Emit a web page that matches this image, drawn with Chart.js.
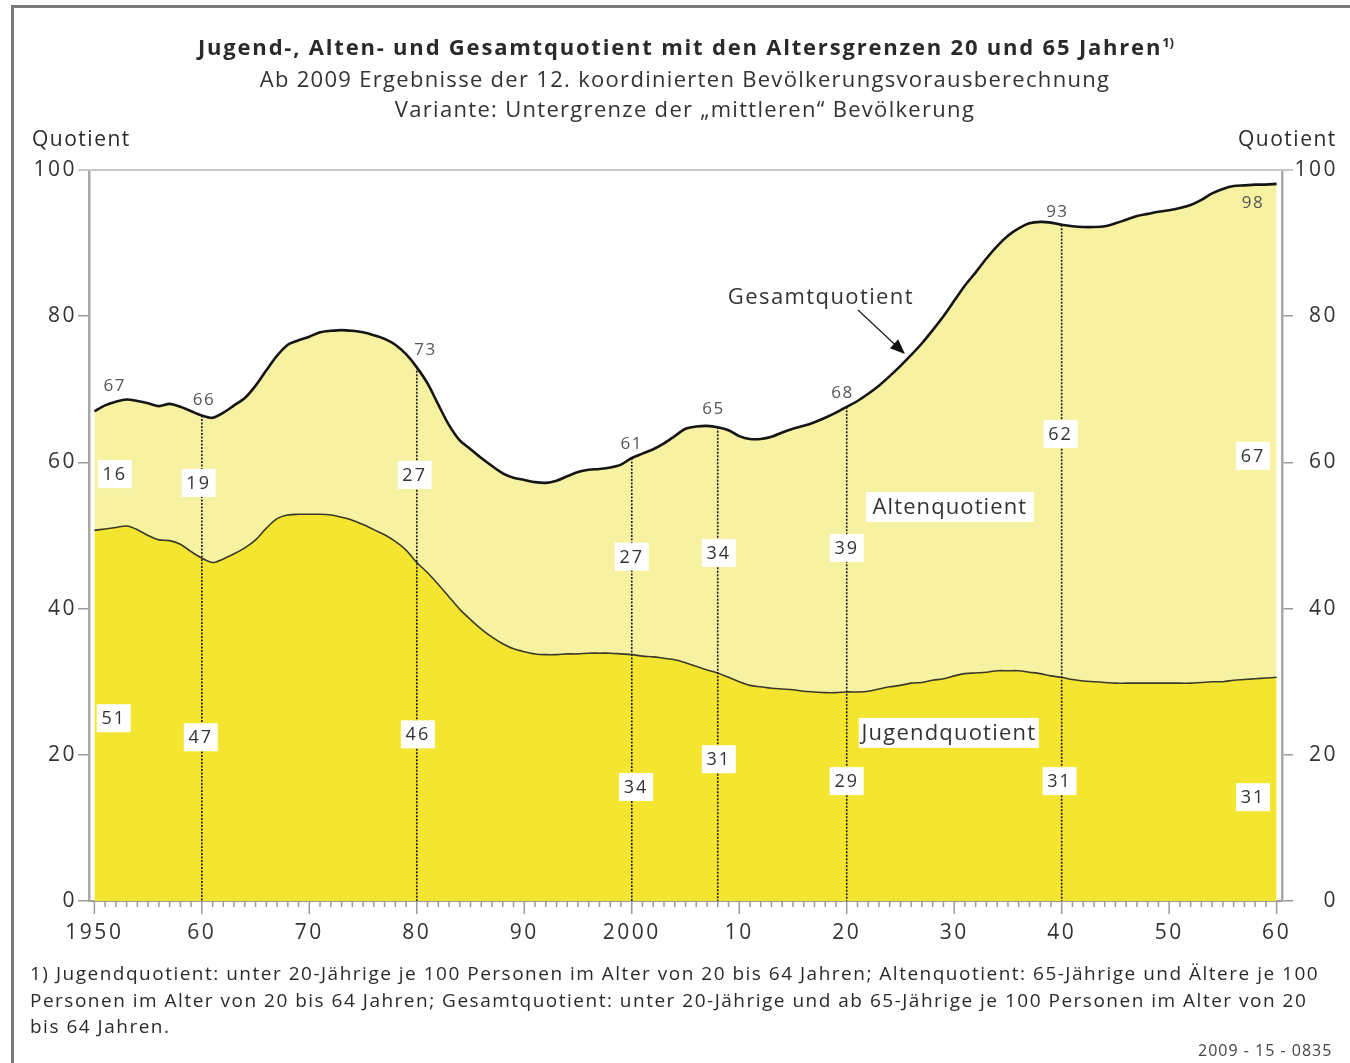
<!DOCTYPE html>
<html><head><meta charset="utf-8">
<script src="https://cdn.jsdelivr.net/npm/chart.js@4.4.1/dist/chart.umd.min.js"></script>
<style>
html,body{margin:0;padding:0;background:#fff;width:1350px;height:1063px;overflow:hidden;font-family:"Open Sans",sans-serif;color:#2a2a2a}
#frame{position:absolute;left:11px;top:5px;width:1400px;height:1100px;border-left:3px solid #7a7a7a;border-top:3px solid #7a7a7a}
#c{position:absolute;left:0;top:0}
.t{position:absolute;white-space:nowrap}
#title{left:0;width:1372px;top:31px;text-align:center;font-weight:bold;font-size:22px;letter-spacing:1.8px}
#title sup{font-size:13px;vertical-align:8px;letter-spacing:0}
.sub{left:0;width:1370px;text-align:center;font-size:22px;letter-spacing:1.3px;color:#333}
.q{font-size:21px;letter-spacing:1.5px;top:124px}
.fn{left:30px;font-size:19px;letter-spacing:1.5px;color:#2a2a2a}
</style></head>
<body>
<div id="frame"></div>
<canvas id="c" width="1350" height="1063"></canvas>
<div class="t" id="title">Jugend-, Alten- und Gesamtquotient mit den Altersgrenzen 20 und 65 Jahren<sup>1)</sup></div>
<div class="t sub" style="top:63px">Ab 2009 Ergebnisse der 12. koordinierten Bevölkerungsvorausberechnung</div>
<div class="t sub" style="top:93px">Variante: Untergrenze der „mittleren“ Bevölkerung</div>
<div class="t q" style="left:32px">Quotient</div>
<div class="t q" style="left:1238px">Quotient</div>
<div class="t fn" style="top:960px">1) Jugendquotient: unter 20-Jährige je 100 Personen im Alter von 20 bis 64 Jahren; Altenquotient: 65-Jährige und Ältere je 100</div>
<div class="t fn" style="top:987px">Personen im Alter von 20 bis 64 Jahren; Gesamtquotient: unter 20-Jährige und ab 65-Jährige je 100 Personen im Alter von 20</div>
<div class="t fn" style="top:1013px">bis 64 Jahren.</div>
<div class="t" style="left:1198px;top:1039px;font-size:16px;letter-spacing:1px;color:#444">2009 - 15 - 0835</div>
<script>
// ---- data ----
const years = [1950,1951,1952,1953,1954,1955,1956,1957,1958,1959,1960,1961,1962,1963,1964,1965,1966,1967,1968,1969,
1970,1971,1972,1973,1974,1975,1976,1977,1978,1979,1980,1981,1982,1983,1984,1985,1986,1987,1988,1989,
1990,1991,1992,1993,1994,1995,1996,1997,1998,1999,2000,2001,2002,2003,2004,2005,2006,2007,2008,2009,
2010,2011,2012,2013,2014,2015,2016,2017,2018,2019,2020,2021,2022,2023,2024,2025,2026,2027,2028,2029,
2030,2031,2032,2033,2034,2035,2036,2037,2038,2039,2040,2041,2042,2043,2044,2045,2046,2047,2048,2049,
2050,2051,2052,2053,2054,2055,2056,2057,2058,2059,2060];
const gesamt = [67.0,67.8,68.3,68.6,68.4,68.1,67.7,68.0,67.6,67.0,66.4,66.1,66.8,67.8,68.8,70.5,72.6,74.6,76.1,76.7,
77.2,77.8,78.0,78.1,78.0,77.8,77.4,76.9,76.1,74.8,73.0,70.8,67.9,65.1,63.0,61.8,60.6,59.5,58.5,57.9,
57.6,57.3,57.2,57.5,58.1,58.7,59.0,59.1,59.3,59.7,60.6,61.2,61.8,62.6,63.6,64.6,64.9,65.0,64.8,64.4,
63.6,63.2,63.2,63.5,64.1,64.6,65.0,65.5,66.1,66.8,67.6,68.4,69.4,70.5,71.8,73.2,74.7,76.3,78.1,80.0,
82.1,84.2,86.0,87.9,89.6,91.0,92.0,92.7,92.9,92.8,92.5,92.3,92.2,92.2,92.3,92.7,93.2,93.7,94.0,94.3,
94.5,94.8,95.2,95.9,96.8,97.4,97.8,97.9,98.0,98.0,98.1];
const jugend = [50.7,50.9,51.1,51.3,50.8,50.0,49.4,49.3,48.8,47.8,46.9,46.3,46.8,47.5,48.3,49.4,51.0,52.3,52.8,52.9,
52.9,52.9,52.8,52.5,52.1,51.5,50.8,50.1,49.2,48.0,46.3,44.9,43.3,41.6,39.9,38.5,37.2,36.1,35.2,34.5,
34.1,33.8,33.7,33.7,33.8,33.8,33.9,33.9,33.9,33.8,33.7,33.5,33.4,33.2,33.0,32.6,32.1,31.6,31.2,30.6,
30.0,29.5,29.3,29.1,29.0,28.9,28.7,28.6,28.5,28.5,28.6,28.6,28.7,29.0,29.3,29.5,29.8,29.9,30.2,30.4,
30.8,31.1,31.2,31.3,31.5,31.5,31.5,31.3,31.1,30.8,30.6,30.3,30.1,30.0,29.9,29.8,29.8,29.8,29.8,29.8,
29.8,29.8,29.8,29.9,30.0,30.0,30.2,30.3,30.4,30.5,30.6];
const markYears    = [1950,1960,1980,2000,2008,2020,2040,2060];
const gesamtLabels = [67,66,73,61,65,68,93,98];
const altenLabels  = [16,19,27,27,34,39,62,67];
const jugendLabels = [51,47,46,34,31,29,31,31];
const lineYears    = [1960,1980,2000,2008,2020,2040];
const yTicks = [0,20,40,60,80,100];
const xTicks = [1950,1960,1970,1980,1990,2000,2010,2020,2030,2040,2050,2060];
const xTickLabels = ['1950','60','70','80','90','2000','10','20','30','40','50','60'];

// ---- annotation layout (data units) ----
const gLabPos = [[1951.9,70.4],[1960.2,68.5],[1980.8,75.4],[2000,62.5],[2007.6,67.3],[2019.6,69.5],[2039.6,94.3],[2057.8,95.4]];
const aLabPos = [[1951.9,58.4],[1959.7,57.2],[1979.8,58.3],[2000,47.1],[2008.1,47.6],[2020,48.3],[2039.9,63.9],[2057.8,60.9]];
const jLabPos = [[1951.8,25.0],[1959.9,22.4],[1980.1,22.8],[2000.4,15.6],[2008.1,19.4],[2020,16.4],[2039.8,16.4],[2057.8,14.2]];

const FONT = '"Open Sans", sans-serif';
const CA = {left:89, right:1282, top:170, bottom:901};

const annot = {
  id:'annot',
  beforeDraw(chart){ chart.ctx.letterSpacing = '2.5px'; },
  afterDatasetsDraw(chart){
    const ctx = chart.ctx, xs = chart.scales.x, ys = chart.scales.y;
    const px = v=>xs.getPixelForValue(v), py = v=>ys.getPixelForValue(v);
    ctx.save();
    // vertical dotted lines
    ctx.strokeStyle = '#1a1a1a'; ctx.lineWidth = 1.6; ctx.setLineDash([2,1.5]);
    lineYears.forEach(yr=>{
      const i = years.indexOf(yr);
      ctx.beginPath(); ctx.moveTo(px(yr), py(gesamt[i])); ctx.lineTo(px(yr), py(0)); ctx.stroke();
    });
    ctx.setLineDash([]);
    ctx.textAlign='center'; ctx.textBaseline='middle';
    // gesamt labels
    ctx.letterSpacing='1.5px';
    ctx.font = '17px '+FONT; ctx.fillStyle = '#555';
    gesamtLabels.forEach((v,k)=>{ ctx.fillText(String(v), px(gLabPos[k][0]), py(gLabPos[k][1])); });
    // boxed labels
    const box = (txt,x,y,w,h,font,ls)=>{
      ctx.font = font; ctx.fillStyle='#fff'; ctx.letterSpacing=ls;
      ctx.fillRect(x-w/2,y-h/2,w,h);
      ctx.fillStyle='#333'; ctx.fillText(txt,x,y+1);
    };
    altenLabels.forEach((v,k)=>box(String(v),px(aLabPos[k][0]),py(aLabPos[k][1]),34,28,'18px '+FONT,'2px'));
    jugendLabels.forEach((v,k)=>box(String(v),px(jLabPos[k][0]),py(jLabPos[k][1]),34,28,'18px '+FONT,'2px'));
    box('Altenquotient', px(2029.6), py(53.9), 168, 30, '22px '+FONT, '1.1px');
    box('Jugendquotient', px(2029.5), py(23.0), 180, 30, '22px '+FONT, '1.2px');
    // Gesamtquotient label with arrow
    ctx.font='22px '+FONT; ctx.fillStyle='#333'; ctx.letterSpacing='1.4px';
    ctx.fillText('Gesamtquotient', px(2017.6), py(82.5));
    const x1=858,y1=310,x2=905,y2=354;
    ctx.strokeStyle='#222'; ctx.lineWidth=1.3;
    ctx.beginPath(); ctx.moveTo(x1,y1); ctx.lineTo(x2-8,y2-7.5); ctx.stroke();
    const ang=Math.atan2(y2-y1,x2-x1);
    ctx.fillStyle='#111'; ctx.beginPath();
    ctx.moveTo(x2,y2);
    ctx.lineTo(x2-15*Math.cos(ang)+6*Math.sin(ang), y2-15*Math.sin(ang)-6*Math.cos(ang));
    ctx.lineTo(x2-15*Math.cos(ang)-6*Math.sin(ang), y2-15*Math.sin(ang)+6*Math.cos(ang));
    ctx.closePath(); ctx.fill();
    ctx.restore();
  },
  beforeDatasetsDraw(chart){
    const ctx = chart.ctx, xs = chart.scales.x, ys = chart.scales.y;
    ctx.save();
    // top line at 100
    ctx.strokeStyle='#c8c8c8'; ctx.lineWidth=2;
    ctx.beginPath(); ctx.moveTo(78, ys.getPixelForValue(100)); ctx.lineTo(1293, ys.getPixelForValue(100)); ctx.stroke();
    // x ticks: minor each year, major each decade
    ctx.strokeStyle='#9a9a9a'; ctx.lineWidth=1.5;
    const yb = ys.getPixelForValue(0);
    years.forEach(yr=>{
      const x = xs.getPixelForValue(yr);
      const major = xTicks.includes(yr);
      ctx.beginPath(); ctx.moveTo(x, yb); ctx.lineTo(x, yb + (major?13:6)); ctx.stroke();
    });
    ctx.restore();
  }
};

new Chart(document.getElementById('c'), {
  type:'line',
  data:{
    datasets:[
      {label:'Jugendquotient', data: years.map((y,i)=>({x:y,y:jugend[i]})), fill:'origin',
       backgroundColor:'#f4e630', borderColor:'#3b3a28', borderWidth:1.6, pointRadius:0, tension:0.3},
      {label:'Gesamtquotient', data: years.map((y,i)=>({x:y,y:gesamt[i]})), fill:'-1',
       backgroundColor:'#f7f1a2', borderColor:'#151515', borderWidth:2.6, pointRadius:0, tension:0.3}
    ]
  },
  options:{
    responsive:false, animation:false, devicePixelRatio:1,
    layout:{padding:{top:CA.top, left:0, right:12, bottom:0}},
    plugins:{legend:{display:false}, tooltip:{enabled:false}},
    scales:{
      x:{type:'linear', min:1949.5, max:2060.5,
         afterBuildTicks(s){ s.ticks = xTicks.map(v=>({value:v})); },
         afterFit(s){ s.height = 1063 - CA.bottom; },
         grid:{display:false, drawTicks:true, tickLength:12},
         border:{display:true, color:'#9a9a9a', width:2},
         ticks:{padding:7, color:'#333', font:{family:FONT,size:21}, maxRotation:0, autoSkip:false,
                callback:(v)=>{const k=xTicks.indexOf(v); return k>=0?xTickLabels[k]:'';}}
      },
      y:{position:'left', min:0, max:100,
         afterBuildTicks(s){ s.ticks = yTicks.map(v=>({value:v})); },
         afterFit(s){ s.width = CA.left; },
         grid:{drawOnChartArea:false, drawTicks:true, tickLength:11, color:'#9a9a9a', lineWidth:1.5},
         border:{display:true, color:'#a8a8a8', width:2.5},
         ticks:{padding:1, color:'#333', font:{family:FONT,size:21}}
      },
      y2:{position:'right', min:0, max:100,
         afterBuildTicks(s){ s.ticks = yTicks.map(v=>({value:v})); },
         afterFit(s){ s.width = 1350 - 12 - CA.right; },
         grid:{drawOnChartArea:false, drawTicks:true, tickLength:11, color:'#9a9a9a', lineWidth:1.5},
         border:{display:true, color:'#a8a8a8', width:2.5},
         ticks:{padding:3, color:'#333', crossAlign:'far', font:{family:FONT,size:21}}
      }
    }
  },
  plugins:[annot]
});
</script>
</body></html>
